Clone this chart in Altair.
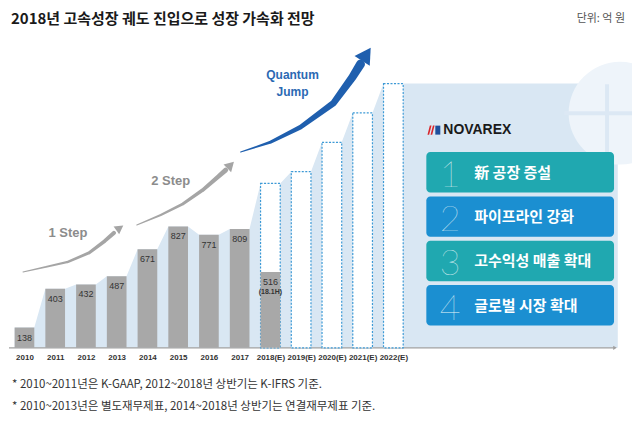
import altair as alt
import pandas as pd

# ---------------- data ----------------
years = ["2010", "2011", "2012", "2013", "2014", "2015", "2016", "2017",
         "2018(E)", "2019(E)", "2020(E)", "2021(E)", "2022(E)"]
actual = [138, 403, 432, 487, 671, 827, 771, 809, 516]          # 2010-2018(1H)
forecast_years = ["2018(E)", "2019(E)", "2020(E)", "2021(E)", "2022(E)"]
forecast = [1120, 1200, 1400, 1600, 1800]                        # dashed outline bars
sub_label = "(18.1H)"

title = "2018년 고속성장 궤도 진입으로 성장 가속화 전망"
unit = "단위: 억 원"
notes = ["* 2010~2011년은 K-GAAP, 2012~2018년 상반기는 K-IFRS 기준.",
         "* 2010~2013년은 별도재무제표, 2014~2018년 상반기는 연결재무제표 기준."]
strategies = ["新 공장 증설", "파이프라인 강화", "고수익성 매출 확대", "글로벌 시장 확대"]
strategy_nums = ["1", "2", "3", "4"]
steps = ["1 Step", "2 Step", "Quantum", "Jump"]

KR = "Noto Sans CJK KR"
LAT = "Liberation Sans"
HALF = 0.32

# ---------------- frames ----------------
act_df = pd.DataFrame({"i": list(range(len(actual))), "year": years[:len(actual)], "v": actual})
fc_df = pd.DataFrame({"i": [years.index(y) for y in forecast_years], "year": forecast_years, "v": forecast})

tops = {}
for i, v in zip(act_df.i, act_df.v):
    tops[i] = max(tops.get(i, 0), v)
for i, v in zip(fc_df.i, fc_df.v):
    tops[i] = max(tops.get(i, 0), v)
area_rows = []
for i in sorted(tops):
    area_rows.append({"x": i - HALF, "v": tops[i]})
    area_rows.append({"x": i + HALF, "v": tops[i]})
area_rows.append({"x": 19.3, "v": tops[max(tops)]})
area_df = pd.DataFrame(area_rows)

xs = alt.Scale(domain=[-0.503, 19.763], nice=False, zero=False)
ys = alt.Scale(domain=[0, 2313], nice=False, zero=True)
label_expr = "[" + ",".join("'%s'" % y for y in years) + "][datum.value]"


def one():
    return alt.Chart(pd.DataFrame({"d": [0]}))


# background area connecting bar tops
area = alt.Chart(area_df).mark_area(color="#d9e7f3", opacity=1).encode(
    x=alt.X("x:Q", scale=xs,
            axis=alt.Axis(values=list(range(len(years))), labelExpr=label_expr,
                          domain=False, ticks=False, grid=False, title=None,
                          labelFont=LAT, labelFontSize=8, labelFontWeight="bold",
                          labelColor="#333333", labelPadding=6)),
    y=alt.Y("v:Q", scale=ys, axis=None),
)

# globe decoration (clipped to the plot)
globe = one().mark_point(shape="circle", filled=True, size=10600, color="#eef4fa", opacity=1,
                         clip=True).encode(x=alt.value(612), y=alt.value(105))
globe_v = one().mark_rule(color="#dce8f4", strokeWidth=4, clip=True).encode(
    x=alt.value(599), y=alt.value(76), y2=alt.value(150))
globe_h = one().mark_rule(color="#dce8f4", strokeWidth=4, clip=True).encode(
    x=alt.value(556), x2=alt.value(624), y=alt.value(105))

# axis baseline with arrow tip
base = one().mark_rule(color="#a0a0a0", strokeWidth=1.2).encode(
    x=alt.value(0), x2=alt.value(606), y=alt.value(340))
base_tip = one().mark_point(shape="triangle-right", filled=True, size=18, color="#a0a0a0", opacity=1).encode(
    x=alt.value(607), y=alt.value(340))

# forecast outline bars
fc_bars = alt.Chart(fc_df).transform_calculate(
    x0=f"datum.i - {HALF}", x1=f"datum.i + {HALF}"
).mark_bar(fill="white", stroke="#3d9ad6", strokeDash=[2, 1.5], strokeWidth=1.2).encode(
    x=alt.X("x0:Q", scale=xs), x2="x1:Q", y=alt.Y("v:Q", scale=ys), y2=alt.datum(0))

# actual bars
bars = alt.Chart(act_df).transform_calculate(
    x0=f"datum.i - {HALF}", x1=f"datum.i + {HALF}"
).mark_bar(color="#a8a8a8").encode(
    x=alt.X("x0:Q", scale=xs), x2="x1:Q", y=alt.Y("v:Q", scale=ys), y2=alt.datum(0))

vals = alt.Chart(act_df).mark_text(font=LAT, fontSize=9, color="#333333", baseline="middle", dy=10).encode(
    x=alt.X("i:Q", scale=xs), y=alt.Y("v:Q", scale=ys), text="v:Q")
sub = alt.Chart(act_df.tail(1)).transform_calculate(t=f"'{sub_label}'").mark_text(
    font=LAT, fontSize=7, fontWeight="bold", color="#333333", baseline="middle", dy=20).encode(
    x=alt.X("i:Q", scale=xs), y=alt.Y("v:Q", scale=ys), text="t:N")

# arrows (decorative trails)
arrow_defs = [
    ([(22, 272), (45, 267), (67, 262), (88, 253), (104, 241), (113, 233)], [1, 1.8, 2.4, 3, 3.6, 4.2], "#a5a5a5",
     (119, 228), 55, 95),
    ([(136, 225), (160, 215), (182, 204), (202, 190), (217, 177), (225, 170)], [1, 2, 2.8, 3.6, 4.4, 5], "#a5a5a5",
     (230, 165), 45, 115),
    ([(240, 152), (270, 142), (300, 127), (333, 103), (352, 77), (360, 64)], [1, 3, 4.5, 6.5, 8, 9], "#1f5fae",
     (366, 54), 33, 330),
]
arrow_layers = []
for pts, widths, col, head, ang, hs in arrow_defs:
    df = pd.DataFrame({"px": [p[0] - 8 for p in pts], "py": [p[1] - 8 for p in pts],
                       "w": widths, "o": list(range(len(pts)))})
    arrow_layers.append(alt.Chart(df).mark_trail(color=col).encode(
        x=alt.X("px:Q", scale=None), y=alt.Y("py:Q", scale=None),
        size=alt.Size("w:Q", scale=None, legend=None), order="o:Q"))
    arrow_layers.append(one().mark_point(shape="triangle-up", filled=True, size=hs, angle=ang,
                                         color=col, opacity=1).encode(
        x=alt.value(head[0] - 8), y=alt.value(head[1] - 8)))

step_txt = []
for t, (px, py), col, fs in [(steps[0], (67, 233), "#8c8c8c", 13), (steps[1], (170, 181), "#8c8c8c", 13),
                             (steps[2], (292, 75), "#2b69b3", 12), (steps[3], (292, 92), "#2b69b3", 12)]:
    step_txt.append(one().mark_text(text=t, font=LAT, fontSize=fs, fontWeight="bold", color=col,
                                    align="center", baseline="middle").encode(
        x=alt.value(px - 8), y=alt.value(py - 8)))

# right panel: logo mark (two small slanted blocks) + name + strategy boxes
logo_red = one().mark_point(shape="M -0.6 1 L -0.1 -1 L 0.25 -1 L -0.25 1 Z M 0.05 1 L 0.55 -1 L 0.9 -1 L 0.4 1 Z",
                            filled=True, size=90, color="#d8262b", opacity=1).encode(
    x=alt.value(422), y=alt.value(122))
logo_blue = one().mark_rect(color="#1d4f9c").encode(
    x=alt.value(427), x2=alt.value(432), y=alt.value(117.5), y2=alt.value(126.5))
logo = one().mark_text(text="NOVAREX", font=LAT, fontSize=14, fontWeight="bold",
                       color="#1a1a1a", align="left", baseline="middle").encode(
    x=alt.value(435), y=alt.value(122))

panel_df = pd.DataFrame({"i": list(range(4)), "label": strategies, "num": strategy_nums,
                         "col": ["#20a8b0", "#1b8fd1", "#20a8b0", "#1b8fd1"]})
panel = alt.Chart(panel_df).transform_calculate(
    y0="144 + datum.i * 44.4", y1="184.5 + datum.i * 44.4", ym="164.5 + datum.i * 44.4")
boxes = panel.mark_rect(cornerRadius=4).encode(
    x=alt.value(418), x2=alt.value(606),
    y=alt.Y("y0:Q", scale=None), y2="y1:Q",
    color=alt.Color("col:N", scale=None, legend=None))
nums = panel.mark_text(font="Lato", fontSize=36, fontWeight=100, color="#e8f6f8",
                       align="center", baseline="middle", dy=3).encode(
    x=alt.value(442), y=alt.Y("ym:Q", scale=None), text="num:N")
labels = panel.mark_text(font=KR, fontSize=15, fontWeight="bold", color="white",
                         align="left", baseline="middle").encode(
    x=alt.value(466), y=alt.Y("ym:Q", scale=None), text="label:N")

# titles and notes
title_t = one().mark_text(text=title, font=KR, fontSize=15, fontWeight="bold", color="#1a1a1a",
                          align="left", baseline="middle").encode(x=alt.value(2), y=alt.value(11))
unit_t = one().mark_text(text=unit, font=KR, fontSize=11, color="#555555",
                         align="right", baseline="middle").encode(x=alt.value(617), y=alt.value(11))
note_layers = []
for k, n in enumerate(notes):
    note_layers.append(one().mark_text(text=n, font=KR, fontSize=11.5, color="#333333",
                                       align="left", baseline="middle").encode(
        x=alt.value(3), y=alt.value(377 + 22 * k)))

chart = alt.layer(
    area, globe, globe_v, globe_h, base, base_tip, fc_bars, bars, vals, sub,
    *arrow_layers, *step_txt, logo_red, logo_blue, logo, boxes, nums, labels,
    title_t, unit_t, *note_layers
).properties(width=624, height=340, padding=0, background="white").configure_view(stroke=None)

chart.save("out.html", embed_options={"renderer": "svg", "actions": False})
